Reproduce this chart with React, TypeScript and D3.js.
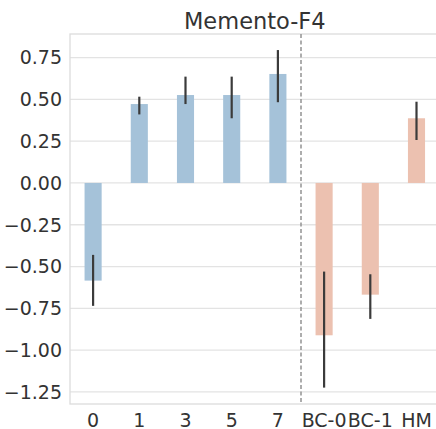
import * as d3 from "d3";

const categories = ["0", "1", "3", "5", "7", "BC-0", "BC-1", "HM"];
const means = [-0.584, 0.472, 0.526, 0.526, 0.652, -0.911, -0.668, 0.387];
const errLow = [-0.735, 0.41, 0.472, 0.387, 0.483, -1.224, -0.813, 0.257];
const errHigh = [-0.43, 0.516, 0.636, 0.636, 0.795, -0.53, -0.546, 0.486];
const groups = ["a", "a", "a", "a", "a", "b", "b", "b"];
const yTicks = [0.75, 0.5, 0.25, 0, -0.25, -0.5, -0.75, -1.0, -1.25];

const colors: Record<string, string> = { a: "#a5c2d9", b: "#ecc1b0" };

const App = () => {
  const width = 436,
    height = 429;
  const left = 70,
    top = 34,
    bottom = 404,
    right = 439.6; // axes runs past the figure edge

  const x = d3.scaleBand().domain(categories).range([left, right]).paddingInner(0).paddingOuter(0);
  const y = d3.scaleLinear().domain([-1.322, 0.891]).range([bottom, top]);
  const bw = x.bandwidth() * 0.37;
  const cx = (c: string) => (x(c) as number) + x.bandwidth() / 2;
  const sepX = (cx(categories[4]) + cx(categories[5])) / 2;
  const font = "DejaVu Sans, sans-serif";

  return (
    <svg width={width} height={height} style={{ display: "block", position: "absolute", left: 0, top: 0 }}>
      <rect x={0} y={0} width={width} height={height} fill="#fff" />
      {yTicks.map((t) => (
        <line key={t} x1={left} x2={right} y1={y(t)} y2={y(t)} stroke="#e3e3e3" strokeWidth={1.3} />
      ))}
      {/* spines */}
      <rect x={left} y={top} width={right - left} height={bottom - top} fill="none" stroke="#dcdcdc" strokeWidth={1.3} />
      {categories.map((c, i) => (
        <rect
          key={c}
          x={cx(c) - bw / 2}
          width={bw}
          y={y(Math.max(0, means[i]))}
          height={Math.abs(y(means[i]) - y(0))}
          fill={colors[groups[i]]}
        />
      ))}
      {categories.map((c, i) => (
        <line key={c} x1={cx(c)} x2={cx(c)} y1={y(errLow[i])} y2={y(errHigh[i])} stroke="#3b3b3b" strokeWidth={2.2} />
      ))}
      <line x1={sepX} x2={sepX} y1={top} y2={bottom} stroke="#999" strokeWidth={1.6} strokeDasharray="4,2.5" />
      {yTicks.map((t) => (
        <text
          key={t}
          x={62}
          y={y(t)}
          dy="0.36em"
          textAnchor="end"
          fontFamily={font}
          fontSize={19}
          fill="#333"
        >
          {t.toFixed(2).replace("-", "\u2212")}
        </text>
      ))}
      {categories.map((c) => (
        <text key={c} x={cx(c)} y={426.5} textAnchor="middle" fontFamily={font} fontSize={19} fill="#333">
          {c}
        </text>
      ))}
      <text x={(left + right) / 2} y={29} textAnchor="middle" fontFamily={font} fontSize={22.5} fill="#333">
        Memento-F4
      </text>
    </svg>
  );
};

export default App;
